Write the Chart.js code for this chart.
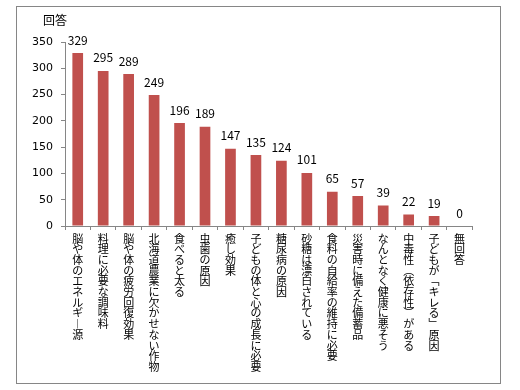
<!DOCTYPE html>
<html>
<head>
<meta charset="utf-8">
<script src="https://cdn.jsdelivr.net/npm/chart.js@4/dist/chart.umd.min.js"></script>
<style>
html,body{margin:0;padding:0;background:#fff;}
#wrap{width:520px;height:390px;position:relative;}
</style>
</head>
<body>
<div id="wrap"><canvas id="c" width="520" height="390"></canvas></div>
<script>
const categories = [
  "脳や体のエネルギー源",
  "料理に必要な調味料",
  "脳や体の疲労回復効果",
  "北海道農業に欠かせない作物",
  "食べると太る",
  "虫歯の原因",
  "癒し効果",
  "子どもの体と心の成長に必要",
  "糖尿病の原因",
  "砂糖は漂白されている",
  "食料の自給率の維持に必要",
  "災害時に備えた備蓄品",
  "なんとなく健康に悪そう",
  "中毒性(依存性)がある",
  "子どもが「キレる」原因",
  "無回答"
];
const answers = [329, 295, 289, 249, 196, 189, 147, 135, 124, 101, 65, 57, 39, 22, 19, 0];
const yTicks = [0, 50, 100, 150, 200, 250, 300, 350];
const yTitle = "回答";

const verticalForms = {"ー":"︱","「":"﹁","」":"﹂","(":"︵",")":"︶"};
const GREY = "#868686";
const CJK = "'Noto Sans CJK JP', 'Noto Sans', sans-serif";

const framePlugin = {
  id: "frame",
  beforeDraw(chart) {
    const ctx = chart.ctx;
    ctx.save();
    ctx.fillStyle = "#fff";
    ctx.fillRect(0, 0, chart.width, chart.height);
    ctx.strokeStyle = GREY;
    ctx.lineWidth = 1;
    ctx.strokeRect(16.5, 6.5, 484, 377);
    ctx.fillStyle = "#000";
    ctx.font = "12px " + CJK;
    ctx.textAlign = "left";
    ctx.textBaseline = "middle";
    ctx.fillText(yTitle, 43, 20);
    ctx.restore();
  }
};

const valuePlugin = {
  id: "values",
  afterDatasetsDraw(chart) {
    const ctx = chart.ctx;
    const meta = chart.getDatasetMeta(0);
    ctx.save();
    ctx.fillStyle = "#000";
    ctx.font = "12px " + CJK;
    ctx.textAlign = "center";
    ctx.textBaseline = "middle";
    meta.data.forEach((bar, i) => {
      ctx.fillText(String(answers[i]), bar.x, bar.y - 13);
    });
    ctx.restore();
  }
};

new Chart(document.getElementById("c"), {
  type: "bar",
  data: {
    labels: categories,
    datasets: [{
      data: answers,
      backgroundColor: "#C0504D",
      borderWidth: 0,
      categoryPercentage: 1,
      barPercentage: 0.42
    }]
  },
  options: {
    responsive: false,
    animation: false,
    devicePixelRatio: 1,
    layout: { padding: { left: 16, right: 47.7, top: 42, bottom: 6 } },
    plugins: { legend: { display: false }, tooltip: { enabled: false } },
    scales: {
      x: {
        afterFit(s) { s.height = 158; },
        grid: { display: true, drawOnChartArea: false, drawTicks: true, tickLength: 4, color: GREY, offset: true },
        border: { color: GREY, width: 1 },
        ticks: {
          autoSkip: false, maxRotation: 0, minRotation: 0, padding: 3,
          color: "#000",
          font: { family: CJK, size: 11, lineHeight: "10.7px" },
          callback: function(value) {
            return Array.from(this.getLabelForValue(value)).map(ch => verticalForms[ch] || ch);
          }
        }
      },
      y: {
        min: 0, max: 350,
        afterFit(s) { s.width = 49; },
        afterBuildTicks(s) { s.ticks = yTicks.map(v => ({ value: v })); },
        grid: { display: true, drawOnChartArea: false, drawTicks: true, tickLength: 4, color: GREY },
        border: { color: GREY, width: 1 },
        ticks: {
          padding: 8, color: "#000",
          font: { family: "'DejaVu Sans', sans-serif", size: 11 }
        }
      }
    }
  },
  plugins: [framePlugin, valuePlugin]
});
</script>
</body>
</html>
